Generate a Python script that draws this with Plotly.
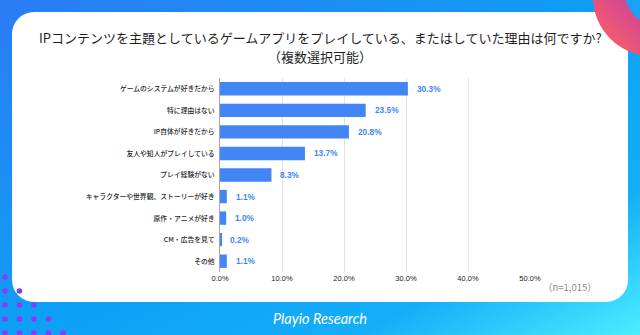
import base64
import plotly.graph_objects as go

# Survey answers (share of respondents, %)
reasons = [
    "ゲームのシステムが好きだから",
    "特に理由はない",
    "IP自体が好きだから",
    "友人や知人がプレイしている",
    "プレイ経験がない",
    "キャラクターや世界観、ストーリーが好き",
    "原作・アニメが好き",
    "CM・広告を見て",
    "その他",
]
shares = [30.3, 23.5, 20.8, 13.7, 8.3, 1.1, 1.0, 0.2, 1.1]
x_ticks = [0, 10, 20, 30, 40, 50]

title_line1 = "IPコンテンツを主題としているゲームアプリをプレイしている、またはしていた理由は何ですか?"
title_line2 = "（複数選択可能）"
sample_note = "（n=1,015）"
brand = "Playio Research"

W, H = 640, 335
L, R, T, B = 220, 110, 78, 63
PW, PH = W - L - R, H - T - B

BAR = "#4285f4"
JP = "Noto Sans CJK JP"


def px(x):
    return (x - L) / PW


def py(y):
    return (H - B - y) / PH


# Decorative backdrop: gradient frame, white card, ring and dot pattern
dots = []
for row in range(5):
    for col in range(row + 1):
        dots.append(
            f'<circle cx="{5 + col * 14.5:.1f}" cy="{277 + row * 14:.1f}" r="2.8" fill="#8a3cf1"/>'
        )
svg = f'''<svg xmlns="http://www.w3.org/2000/svg" width="{W}" height="{H}" viewBox="0 0 {W} {H}">
<defs>
<linearGradient id="bg" x1="0" y1="0" x2="1" y2="1">
<stop offset="0" stop-color="#2b7cf3"/>
<stop offset="0.5" stop-color="#0d9ff6"/>
<stop offset="0.78" stop-color="#14aef8"/>
<stop offset="1" stop-color="#4aeeff"/>
</linearGradient>
<linearGradient id="ring" x1="0" y1="1" x2="1" y2="0">
<stop offset="0.15" stop-color="#f2596f"/>
<stop offset="0.8" stop-color="#9a24d8"/>
</linearGradient>
</defs>
<rect width="{W}" height="{H}" fill="url(#bg)"/>
<rect x="12" y="12" width="616" height="290" rx="22" ry="22" fill="#ffffff"/>
<circle cx="652" cy="-3" r="59" fill="url(#ring)"/>
<circle cx="656" cy="-7" r="31" fill="#16a3f7"/>
{''.join(dots)}
</svg>'''
svg_uri = "data:image/svg+xml;base64," + base64.b64encode(svg.encode("utf-8")).decode("ascii")

fig = go.Figure(
    go.Bar(
        x=shares,
        y=reasons,
        orientation="h",
        marker=dict(color=BAR, line=dict(width=0)),
        width=0.62,
        hoverinfo="skip",
    )
)

# Value labels at the end of each bar
annotations = [
    dict(
        x=v, y=c, xref="x", yref="y", text=f"{v:.1f}%", showarrow=False,
        xanchor="left", xshift=7,
        font=dict(family="Liberation Sans, Arial", size=8.3, color=BAR, weight="bold"),
    )
    for c, v in zip(reasons, shares)
]
annotations += [
    dict(x=px(320), y=py(37), xref="paper", yref="paper", text=title_line1,
         showarrow=False, xanchor="center", yanchor="middle",
         font=dict(family=JP, size=13, color="#1f1f1f")),
    dict(x=px(320), y=py(57), xref="paper", yref="paper", text=title_line2,
         showarrow=False, xanchor="center", yanchor="middle",
         font=dict(family=JP, size=13, color="#1f1f1f")),
    dict(x=px(570), y=py(287), xref="paper", yref="paper", text=sample_note,
         showarrow=False, xanchor="center", yanchor="middle",
         font=dict(family=JP, size=9.5, color="#8a8a8a")),
    dict(x=px(320), y=py(318), xref="paper", yref="paper", text=brand,
         showarrow=False, xanchor="center", yanchor="middle",
         font=dict(family="Lato", size=14.5, color="#ffffff", style="italic")),
]

fig.update_layout(
    width=W, height=H,
    margin=dict(l=L, r=R, t=T, b=B, pad=0),
    paper_bgcolor="#ffffff",
    plot_bgcolor="rgba(0,0,0,0)",
    showlegend=False,
    bargap=0.38,
    annotations=annotations,
    images=[dict(
        source=svg_uri, xref="paper", yref="paper",
        x=px(0), y=py(0), sizex=W / PW, sizey=H / PH,
        xanchor="left", yanchor="top", sizing="stretch", layer="below",
    )],
    xaxis=dict(
        range=[0, 50], tickvals=x_ticks,
        ticktext=[f"{t:.1f}%" for t in x_ticks],
        showgrid=True, gridcolor="#e3e3e3", gridwidth=1,
        zeroline=False, showline=False, ticks="",
        tickfont=dict(family="Liberation Sans, Arial", size=7.5, color="#222222"),
        fixedrange=True,
    ),
    yaxis=dict(
        categoryorder="array", categoryarray=reasons, autorange="reversed",
        showgrid=False, zeroline=False, showline=True,
        linecolor="#a6a6a6", linewidth=1, ticks="",
        ticklabelstandoff=3,
        tickfont=dict(family=JP, size=6.8, color="#1f1f1f", weight=500),
        fixedrange=True,
    ),
)

fig.write_html("out.html", config=dict(displayModeBar=False))
